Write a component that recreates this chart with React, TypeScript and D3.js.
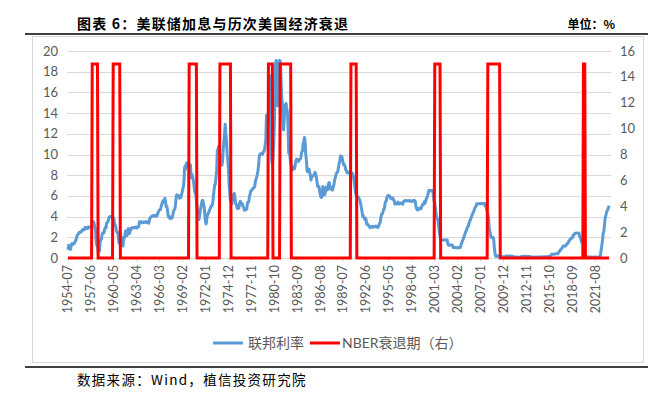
import React from "react";
import * as d3 from "d3";

// 联邦基金利率，月度，1954-07 起
const startYear = 1954;
const startMonth = 7;
const fedFunds: number[] = [
  // 1954 (7-12)
  0.8, 1.22, 1.07, 0.85, 0.83, 1.28,
  1.39, 1.29, 1.35, 1.43, 1.43, 1.64, 1.68, 1.96, 2.18, 2.24, 2.35, 2.48,
  2.45, 2.5, 2.5, 2.62, 2.75, 2.71, 2.75, 2.73, 2.95, 2.96, 2.88, 2.94,
  2.84, 3.0, 2.96, 3.0, 3.0, 3.0, 2.99, 3.24, 3.47, 3.5, 3.28, 2.98,
  2.72, 1.67, 1.2, 1.26, 0.63, 0.93, 0.68, 1.53, 1.76, 1.8, 2.27, 2.42,
  2.48, 2.43, 2.8, 2.96, 2.9, 3.39, 3.47, 3.5, 3.76, 3.98, 4.0, 3.99,
  3.99, 3.97, 3.84, 3.92, 3.85, 3.32, 3.23, 2.98, 2.6, 2.47, 2.44, 1.98,
  1.45, 2.54, 2.02, 1.49, 1.98, 1.73, 1.17, 2.0, 1.88, 2.26, 2.62, 2.33,
  2.15, 2.37, 2.85, 2.78, 2.36, 2.68, 2.71, 2.93, 2.9, 2.9, 2.94, 2.93,
  2.92, 3.0, 2.98, 2.9, 3.0, 2.99, 3.02, 3.49, 3.48, 3.5, 3.48, 3.38,
  3.48, 3.48, 3.43, 3.47, 3.5, 3.5, 3.42, 3.5, 3.45, 3.36, 3.52, 3.85,
  3.9, 3.98, 4.04, 4.09, 4.1, 4.04, 4.09, 4.12, 4.01, 4.08, 4.1, 4.32,
  4.42, 4.6, 4.65, 4.67, 4.9, 5.17, 5.3, 5.53, 5.4, 5.53, 5.76, 5.4,
  4.94, 5.0, 4.53, 4.05, 3.94, 3.98, 3.79, 3.9, 3.99, 3.88, 4.13, 4.51,
  4.61, 4.71, 5.05, 5.76, 6.12, 6.07, 6.02, 6.03, 5.78, 5.91, 5.82, 6.02,
  6.3, 6.64, 6.79, 7.41, 8.67, 8.9, 8.61, 9.19, 9.15, 9.0, 8.85, 8.97,
  8.98, 8.98, 7.76, 8.1, 7.95, 7.61, 7.21, 6.61, 6.29, 6.2, 5.6, 4.9,
  4.14, 3.72, 3.71, 4.16, 4.63, 4.91, 5.31, 5.56, 5.55, 5.2, 4.91, 4.14,
  3.5, 3.29, 3.83, 4.17, 4.27, 4.46, 4.55, 4.8, 4.87, 5.04, 5.06, 5.33,
  5.94, 6.58, 7.09, 7.12, 7.84, 8.49, 10.4, 10.5, 10.78, 10.01, 10.03, 9.95,
  9.65, 8.97, 9.35, 10.51, 11.31, 11.93, 12.92, 12.01, 11.34, 10.06, 9.45, 8.53,
  7.13, 6.24, 5.54, 5.49, 5.22, 5.55, 6.1, 6.14, 6.24, 5.82, 5.22, 5.2,
  4.87, 4.77, 4.84, 4.82, 5.29, 5.48, 5.31, 5.29, 5.25, 5.02, 4.95, 4.65,
  4.61, 4.68, 4.69, 4.73, 5.35, 5.39, 5.42, 5.9, 6.14, 6.47, 6.51, 6.56,
  6.7, 6.78, 6.79, 6.89, 7.36, 7.6, 7.81, 8.04, 8.45, 8.96, 9.76, 10.03,
  10.07, 10.06, 10.09, 10.01, 10.24, 10.29, 10.47, 10.94, 11.43, 13.77, 13.18, 13.78,
  13.82, 14.13, 17.19, 17.61, 10.98, 9.47, 9.03, 9.61, 10.87, 12.81, 15.85, 18.9,
  19.08, 15.93, 14.7, 15.72, 18.52, 19.1, 19.04, 17.82, 15.87, 15.08, 13.31, 12.37,
  13.22, 14.78, 14.68, 14.94, 14.45, 14.15, 12.59, 10.12, 10.31, 9.71, 9.2, 8.95,
  8.68, 8.51, 8.77, 8.8, 8.63, 8.98, 9.37, 9.56, 9.45, 9.48, 9.34, 9.47,
  9.56, 9.59, 9.91, 10.29, 10.32, 11.06, 11.23, 11.64, 11.3, 9.99, 9.43, 8.38,
  8.35, 8.5, 8.58, 8.27, 7.97, 7.53, 7.88, 7.9, 7.92, 7.99, 8.05, 8.27,
  8.14, 7.86, 7.48, 6.99, 6.85, 6.92, 6.56, 6.17, 5.89, 5.85, 6.04, 6.91,
  6.43, 6.1, 6.13, 6.37, 6.85, 6.73, 6.58, 6.73, 7.22, 7.29, 6.69, 6.77,
  6.83, 6.58, 6.58, 6.87, 7.09, 7.51, 7.75, 8.01, 8.19, 8.3, 8.35, 8.76,
  9.12, 9.36, 9.85, 9.84, 9.81, 9.53, 9.24, 8.99, 9.02, 8.84, 8.55, 8.45,
  8.23, 8.24, 8.28, 8.26, 8.18, 8.29, 8.15, 8.13, 8.2, 8.11, 7.81, 7.31,
  6.91, 6.25, 6.12, 5.91, 5.78, 5.9, 5.82, 5.66, 5.45, 5.21, 4.81, 4.43,
  4.03, 4.06, 3.98, 3.73, 3.82, 3.76, 3.25, 3.3, 3.22, 3.1, 3.09, 2.92,
  3.02, 3.03, 3.07, 2.96, 3.0, 3.04, 3.06, 3.03, 3.09, 2.99, 3.02, 2.96,
  3.05, 3.25, 3.34, 3.56, 4.01, 4.25, 4.26, 4.47, 4.73, 4.76, 5.29, 5.45,
  5.53, 5.92, 5.98, 6.05, 6.01, 6.0, 5.85, 5.74, 5.8, 5.76, 5.8, 5.6,
  5.56, 5.22, 5.31, 5.22, 5.24, 5.27, 5.4, 5.22, 5.3, 5.24, 5.31, 5.29,
  5.25, 5.19, 5.39, 5.51, 5.5, 5.56, 5.52, 5.54, 5.54, 5.5, 5.52, 5.5,
  5.56, 5.51, 5.49, 5.45, 5.49, 5.56, 5.54, 5.55, 5.51, 5.07, 4.83, 4.68,
  4.63, 4.76, 4.81, 4.74, 4.74, 4.76, 4.99, 5.07, 5.22, 5.2, 5.42, 5.3,
  5.45, 5.73, 5.85, 6.02, 6.27, 6.53, 6.54, 6.5, 6.52, 6.51, 6.51, 6.4,
  5.98, 5.49, 5.31, 4.8, 4.21, 3.97, 3.77, 3.65, 3.07, 2.49, 2.09, 1.82,
  1.73, 1.74, 1.73, 1.75, 1.75, 1.75, 1.73, 1.74, 1.75, 1.75, 1.34, 1.24,
  1.24, 1.26, 1.25, 1.26, 1.26, 1.22, 1.01, 1.03, 1.01, 1.01, 1.0, 0.98,
  1.0, 1.01, 1.0, 1.0, 1.0, 1.03, 1.26, 1.43, 1.61, 1.76, 1.93, 2.16,
  2.28, 2.5, 2.63, 2.79, 3.0, 3.04, 3.26, 3.5, 3.62, 3.78, 4.0, 4.16,
  4.29, 4.49, 4.59, 4.79, 4.94, 4.99, 5.24, 5.25, 5.25, 5.25, 5.25, 5.24,
  5.25, 5.26, 5.26, 5.25, 5.25, 5.25, 5.26, 5.02, 4.94, 4.76, 4.49, 4.24,
  3.94, 2.98, 2.61, 2.28, 1.98, 2.0, 2.01, 2.0, 1.81, 0.97, 0.39, 0.16,
  0.15, 0.22, 0.18, 0.15, 0.18, 0.21, 0.16, 0.16, 0.15, 0.12, 0.12, 0.12,
  0.11, 0.13, 0.16, 0.2, 0.2, 0.18, 0.18, 0.19, 0.19, 0.19, 0.19, 0.18,
  0.17, 0.16, 0.14, 0.1, 0.09, 0.09, 0.07, 0.1, 0.08, 0.07, 0.08, 0.07,
  0.08, 0.1, 0.13, 0.14, 0.16, 0.16, 0.16, 0.13, 0.14, 0.16, 0.16, 0.16,
  0.14, 0.15, 0.14, 0.15, 0.11, 0.09, 0.09, 0.08, 0.08, 0.09, 0.08, 0.09,
  0.07, 0.07, 0.08, 0.09, 0.09, 0.1, 0.09, 0.09, 0.09, 0.09, 0.09, 0.12,
  0.11, 0.11, 0.11, 0.12, 0.12, 0.13, 0.13, 0.14, 0.14, 0.12, 0.12, 0.24,
  0.34, 0.38, 0.36, 0.37, 0.37, 0.38, 0.39, 0.4, 0.4, 0.4, 0.41, 0.54,
  0.65, 0.66, 0.79, 0.9, 0.91, 1.04, 1.15, 1.16, 1.15, 1.15, 1.16, 1.3,
  1.41, 1.42, 1.51, 1.69, 1.7, 1.82, 1.91, 1.91, 1.95, 2.19, 2.2, 2.27,
  2.4, 2.4, 2.41, 2.42, 2.39, 2.38, 2.4, 2.13, 2.04, 1.83, 1.55, 1.55,
  1.55, 1.58, 0.65, 0.05, 0.05, 0.08, 0.09, 0.1, 0.09, 0.09, 0.09, 0.09,
  0.09, 0.08, 0.07, 0.07, 0.06, 0.08, 0.1, 0.09, 0.08, 0.08, 0.08, 0.08,
  0.08, 0.08, 0.2, 0.33, 0.77, 1.21, 1.68, 2.33, 2.56, 3.08, 3.78, 4.1,
  // 2023 (1-5)
  4.33, 4.57, 4.65, 4.83, 5.06,
];

// NBER 衰退期（峰 -> 谷）
const recessions: [string, string][] = [
  ["1957-08", "1958-04"],
  ["1960-04", "1961-02"],
  ["1969-12", "1970-11"],
  ["1973-11", "1975-03"],
  ["1980-01", "1980-07"],
  ["1981-07", "1982-11"],
  ["1990-07", "1991-03"],
  ["2001-03", "2001-11"],
  ["2007-12", "2009-06"],
  ["2020-02", "2020-04"],
];
const recessionLevel = 15;

const xTickLabels = [
  "1954-07", "1957-06", "1960-05", "1963-04", "1966-03", "1969-02",
  "1972-01", "1974-12", "1977-11", "1980-10", "1983-09", "1986-08",
  "1989-07", "1992-06", "1995-05", "1998-04", "2001-03", "2004-02",
  "2007-01", "2009-12", "2012-11", "2015-10", "2018-09", "2021-08",
];
const leftTicks = [0, 2, 4, 6, 8, 10, 12, 14, 16, 18, 20];
const rightTicks = [0, 2, 4, 6, 8, 10, 12, 14, 16];

const monthIndex = (s: string) => {
  const [y, m] = s.split("-").map(Number);
  return (y - startYear) * 12 + (m - startMonth);
};

const W = 665;
const H = 396;
const plotL = 68;
const plotR = 609;
const plotT = 51;
const plotB = 258;
const gray = "#595959";
const numFont = "Lato, 'Noto Sans CJK SC', sans-serif";

export default function App() {
  const n = fedFunds.length;
  const x = d3.scaleLinear().domain([0, n - 1]).range([plotL, plotR]);
  const yL = d3.scaleLinear().domain([0, 20]).range([plotB, plotT]);
  const yR = d3.scaleLinear().domain([0, 16]).range([plotB, plotT]);

  const recSeries = fedFunds.map((_, i) =>
    recessions.some(([a, b]) => i >= monthIndex(a) && i <= monthIndex(b))
      ? recessionLevel
      : 0
  );

  const blueLine = d3
    .line<number>()
    .x((_, i) => x(i))
    .y((d) => yL(d))(fedFunds);
  const redLine = d3
    .line<number>()
    .x((_, i) => x(i))
    .y((d) => yR(d))(recSeries);

  return (
    <svg
      width={W}
      height={H}
      style={{ position: "absolute", left: 0, top: 0, background: "#fff" }}
    >
      {/* 标题 */}
      <text
        x={77}
        y={29}
        fontSize={14}
        fontWeight="bold"
        letterSpacing={1.2}
        fontFamily="'Noto Sans CJK SC', sans-serif"
        fill="#000"
      >
        图表 6：美联储加息与历次美国经济衰退
      </text>
      <text
        x={615}
        y={29}
        fontSize={12}
        fontWeight="bold"
        textAnchor="end"
        fontFamily="'Noto Sans CJK SC', sans-serif"
        fill="#000"
      >
        单位：%
      </text>
      <line x1={25} x2={648} y1={34} y2={34} stroke="#000" strokeWidth={1.5} />

      {/* 图表框 */}
      <rect x={32.5} y={36.5} width={611} height={326} fill="#fff" stroke="#d9d9d9" />

      {/* 网格 */}
      {leftTicks.map((t) => (
        <line
          key={"g" + t}
          x1={plotL - 1}
          x2={plotR + 2}
          y1={Math.round(yL(t)) + 0.5}
          y2={Math.round(yL(t)) + 0.5}
          stroke="#d9d9d9"
          strokeWidth={1}
        />
      ))}
      {leftTicks.map((t) => (
        <text
          key={"l" + t}
          x={58}
          y={yL(t)}
          dy="0.35em"
          textAnchor="end"
          fontSize={13}
          fontFamily={numFont}
          fill={gray}
        >
          {t}
        </text>
      ))}
      {rightTicks.map((t) => (
        <text
          key={"r" + t}
          x={620}
          y={yR(t)}
          dy="0.35em"
          textAnchor="start"
          fontSize={13}
          fontFamily={numFont}
          fill={gray}
        >
          {t}
        </text>
      ))}

      {/* x 轴 */}
      {xTickLabels.map((lab) => {
        const xi = x(monthIndex(lab));
        return (
          <g key={lab}>
            <line x1={xi} x2={xi} y1={plotB} y2={plotB + 4} stroke="#d9d9d9" />
            <text
              transform={`translate(${xi},${plotB + 7}) rotate(-90)`}
              textAnchor="end"
              dy="0.35em"
              fontSize={12.5}
              fontFamily={numFont}
              fill={gray}
            >
              {lab}
            </text>
          </g>
        );
      })}

      {/* 系列 */}
      <path
        d={blueLine ?? ""}
        fill="none"
        stroke="#5b9bd5"
        strokeWidth={3}
        strokeLinejoin="round"
      />
      <path
        d={redLine ?? ""}
        fill="none"
        stroke="#ff0000"
        strokeWidth={3}
        strokeLinejoin="miter"
      />

      {/* 图例 */}
      <line x1={213} x2={243} y1={343} y2={343} stroke="#5b9bd5" strokeWidth={3} />
      <text
        x={248}
        y={343}
        dy="0.35em"
        fontSize={14}
        fontFamily={numFont}
        fill={gray}
      >
        联邦利率
      </text>
      <line x1={310} x2={340} y1={343} y2={343} stroke="#ff0000" strokeWidth={3} />
      <text
        x={342}
        y={343}
        dy="0.35em"
        fontSize={14}
        fontFamily={numFont}
        fill={gray}
      >
        NBER衰退期（右）
      </text>

      {/* 数据来源 */}
      <line x1={25} x2={648} y1={367} y2={367} stroke="#000" strokeWidth={1.5} />
      <text
        x={77}
        y={385}
        fontSize={13.5}
        letterSpacing={1.3}
        fontFamily="'Noto Sans CJK SC', sans-serif"
        fill="#000"
      >
        数据来源：Wind，植信投资研究院
      </text>
    </svg>
  );
}
